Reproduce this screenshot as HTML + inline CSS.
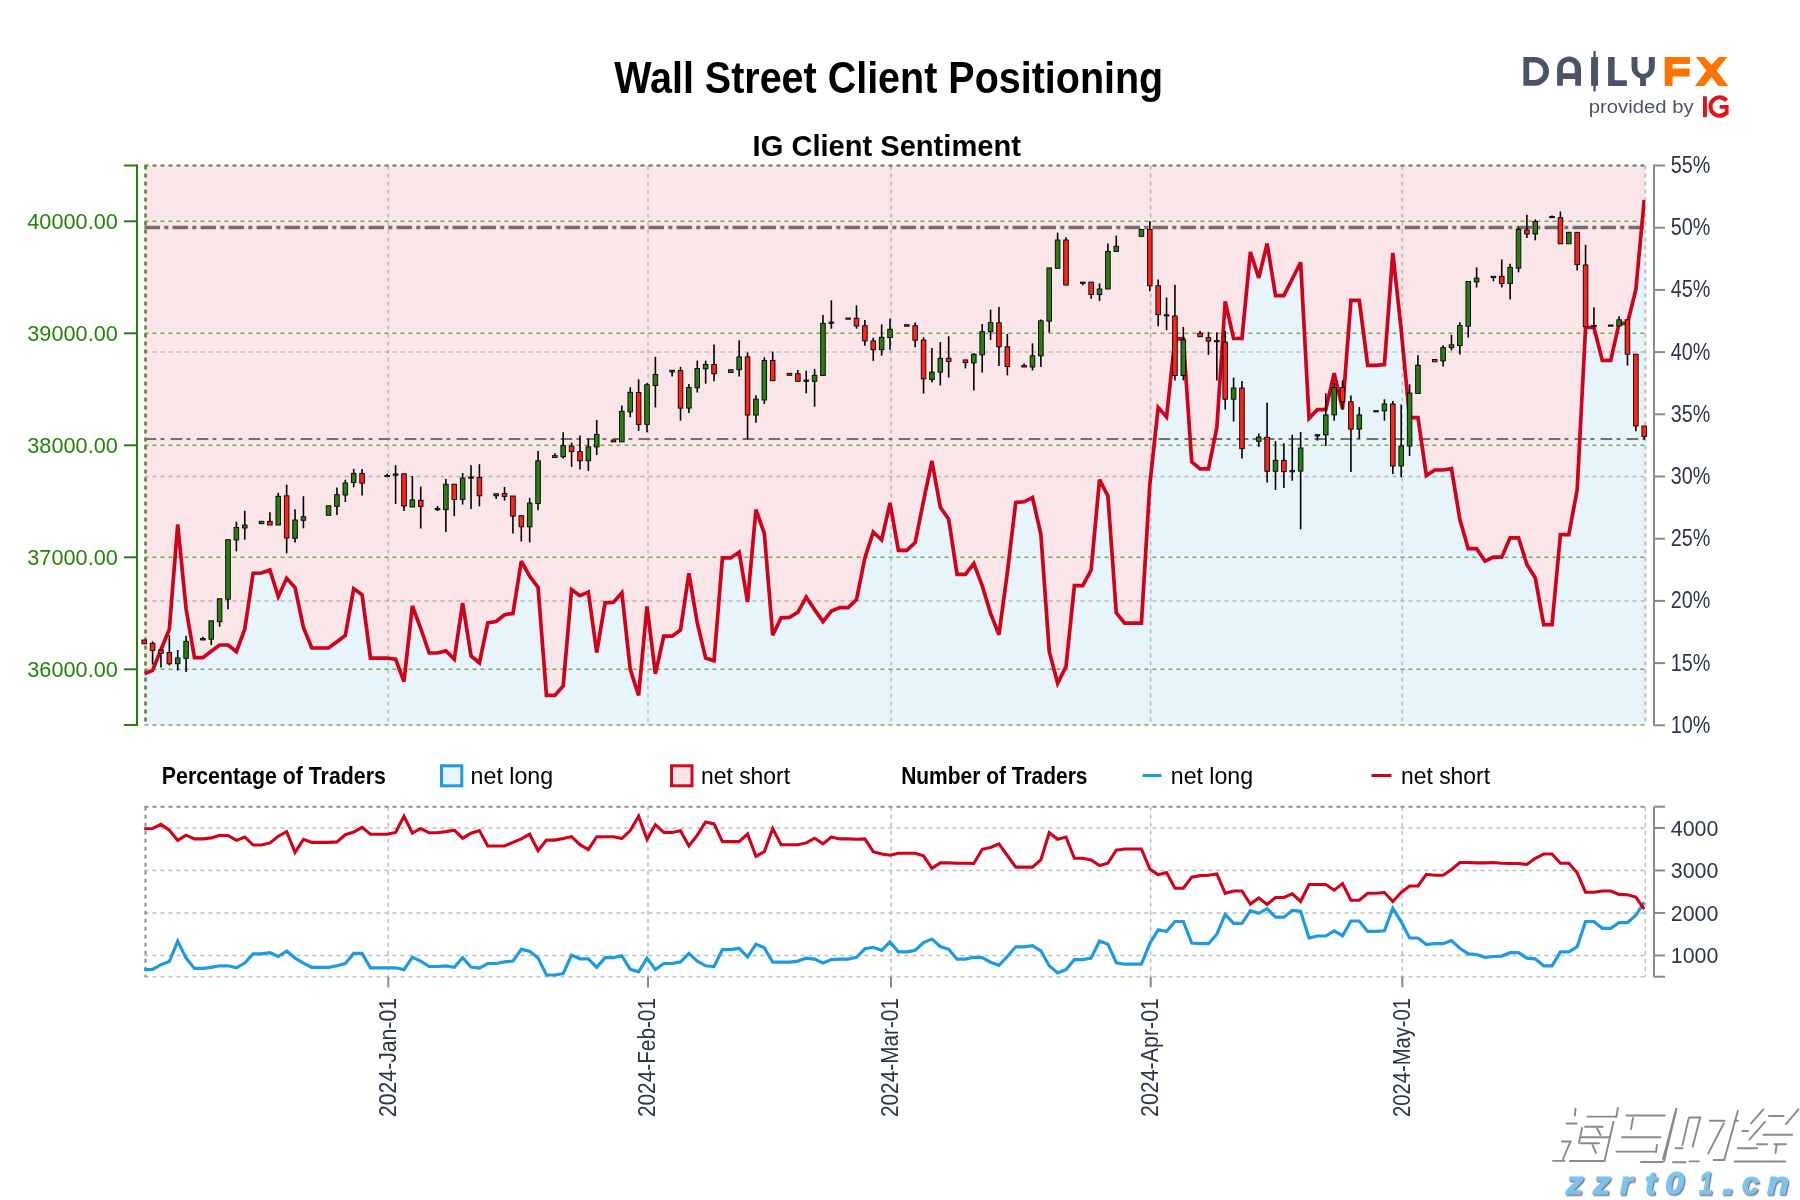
<!DOCTYPE html><html><head><meta charset="utf-8"><style>html,body{margin:0;padding:0;background:#fff;}svg{display:block;will-change:transform;}</style></head><body>
<svg width="1800" height="1200" viewBox="0 0 1800 1200" font-family="'Liberation Sans', sans-serif">
<rect width="1800" height="1200" fill="#fff"/>
<text x="614.2" y="93.1" font-size="45" font-weight="bold" fill="#000" textLength="549" lengthAdjust="spacingAndGlyphs">Wall Street Client Positioning</text>
<text x="752.6" y="155.5" font-size="29.5" font-weight="bold" fill="#000" textLength="268.3" lengthAdjust="spacingAndGlyphs">IG Client Sentiment</text>
<g fill="#4B5466">
<path fill-rule="evenodd" d="M1523.4,57.1H1534.65A14.35,14.35 0 0 1 1534.65,85.8H1523.4Z M1529.2,62.6H1534.65A8.65,8.65 0 0 1 1534.65,79.9H1529.2Z"/>
<path fill-rule="evenodd" d="M1557.1,85.8V68.35A11.95,11.95 0 0 1 1581,68.35V85.8H1575.2V79H1562.9V85.8Z M1562.9,73.3V67.6A5.9,5.9 0 0 1 1574.7,67.6V73.3Z"/>
<rect x="1591.1" y="57.1" width="6.9" height="28.7"/><rect x="1593.4" y="51" width="2.3" height="40.5"/>
<path d="M1608.1,57H1614.6V80.3H1626.9V85.9H1608.1Z"/>
<path d="M1631.5,57H1637.5V68.25A5.65,5.65 0 0 0 1648.8,68.25V57H1654.8V67A11.65,11.65 0 0 1 1645.9,78.3V85.9H1640.1V78.3A11.65,11.65 0 0 1 1631.5,67Z"/>
</g>
<g fill="#FF7300">
<path d="M1664.7,57H1689.9V64.1H1672.6V68.6H1689.6V76.5H1672.6V85.9H1664.7Z"/>
<path d="M1696,57H1704.3L1711.5,64.8L1718.9,57H1727.1L1716.6,70.5L1728.3,85.9H1718.5L1711.5,77L1704.3,85.9H1694.9L1706.4,70.5Z"/>
</g>
<text x="1588.8" y="112.6" font-size="17.5" fill="#4B5466" textLength="104.8" lengthAdjust="spacingAndGlyphs">provided by</text>
<rect x="1703" y="96.3" width="3.9" height="20.9" fill="#E0131B"/>
<path d="M1726.5,100.6A9.1,9.2 0 1 0 1726,113" fill="none" stroke="#E0131B" stroke-width="4.1"/>
<path d="M1719.7,105H1728.6V114.8H1724.8V108.8H1719.7Z" fill="#E0131B"/>
<defs><clipPath id="pc"><rect x="144.5" y="165.5" width="1500.8" height="559.5"/></clipPath></defs>
<rect x="144.5" y="165.5" width="1500.8" height="559.5" fill="#FAE6E8"/>
<polygon clip-path="url(#pc)" fill="#E8F4FC" points="142.5,673.8 144.2,673.8 152.58,670.4 160.96,649.8 169.34,629.2 177.72,524.4 186.1,609 194.48,657.7 202.86,657.7 211.24,651.3 219.62,645 228,645 236.38,651.7 244.76,629.2 253.14,573.3 261.52,573 269.9,570 278.28,596.7 286.66,578.3 295.04,587.5 303.42,627.5 311.8,648 320.18,648 328.56,648 336.94,641.7 345.32,635.5 353.7,588.7 362.08,594.8 370.46,658.1 378.84,658.1 387.22,658.1 395.6,659.1 403.98,681.5 412.36,606 420.74,628.5 429.12,653 437.5,653 445.88,650.9 454.26,659.1 462.64,603 471.02,656 479.4,662.8 487.78,622.8 496.16,621.5 504.54,614.7 512.92,613.5 521.3,561.2 529.68,576.2 538.06,587.4 546.44,695.4 554.82,695.4 563.2,685.9 571.58,589.7 579.96,595.7 588.34,592.1 596.72,652.6 605.1,602.8 613.48,602.3 621.86,592.8 630.24,669.3 638.62,695.4 647,606.4 655.38,673.8 663.76,636.2 672.14,636.2 680.52,630 688.9,573.2 697.28,623 705.66,658.1 714.04,660.7 722.42,557.9 730.8,557.9 739.18,552.1 747.56,602 755.94,509.6 764.32,533.4 772.7,635.3 781.08,617.8 789.46,617.4 797.84,612.3 806.22,597 814.6,609.6 822.98,621.6 831.36,611 839.74,607.6 848.12,607.6 856.5,599.6 864.88,558 873.26,532 881.64,540 890.02,503 898.4,550.4 906.78,550.4 915.16,542.6 923.54,501 931.92,461 940.3,507.2 948.68,519.1 957.06,574.4 965.44,574.4 973.82,563.6 982.2,585.7 990.58,613.4 998.96,634.7 1007.34,572.7 1015.72,502.4 1024.1,501.8 1032.48,497.5 1040.86,534.3 1049.24,651.4 1057.62,683.3 1066,666.6 1074.38,585.7 1082.76,585.7 1091.14,570 1099.52,479.6 1107.9,496 1116.28,612.9 1124.66,623.2 1133.04,623.2 1141.42,623.2 1149.8,484.7 1158.18,407.5 1166.56,417 1174.94,338.8 1183.32,338.8 1191.7,461.8 1200.08,468.8 1208.46,468.8 1216.84,427.5 1225.22,301.3 1233.6,338.5 1241.98,338.5 1250.36,252 1258.74,277.9 1267.12,243.5 1275.5,295.6 1283.88,295.6 1292.26,279 1300.64,262.4 1309.02,418.3 1317.4,409.6 1325.78,409.6 1334.16,373.2 1342.54,408.8 1350.92,300.4 1359.3,300.4 1367.68,365.3 1376.06,365.3 1384.44,364.5 1392.82,252.9 1401.2,330 1409.58,417.6 1417.96,417.6 1426.34,475.6 1434.72,470 1443.1,470 1451.48,468.6 1459.86,519.5 1468.24,548.7 1476.62,548.7 1485,561.2 1493.38,557.2 1501.76,557.2 1510.14,537.8 1518.52,537.8 1526.9,564.5 1535.28,578 1543.66,624.6 1552.04,624.6 1560.42,534.7 1568.8,534.7 1577.18,489.7 1585.56,327.5 1593.94,327.5 1602.32,360.4 1610.7,360.4 1619.08,323.3 1627.46,323.3 1635.84,289.6 1644.22,200 1647.3,200 1647.3,727 142.5,727"/>
<line x1="144.5" x2="1645.3" y1="352.1" y2="352.1" stroke="rgba(120,120,120,0.45)" stroke-width="1.5" stroke-dasharray="4,4"/>
<line x1="144.5" x2="1645.3" y1="476.5" y2="476.5" stroke="rgba(120,120,120,0.45)" stroke-width="1.5" stroke-dasharray="4,4"/>
<line x1="144.5" x2="1645.3" y1="600.9" y2="600.9" stroke="rgba(120,120,120,0.45)" stroke-width="1.5" stroke-dasharray="4,4"/>
<line x1="388.3" x2="388.3" y1="165.5" y2="725" stroke="rgba(120,120,120,0.45)" stroke-width="1.5" stroke-dasharray="4,4"/>
<line x1="648" x2="648" y1="165.5" y2="725" stroke="rgba(120,120,120,0.45)" stroke-width="1.5" stroke-dasharray="4,4"/>
<line x1="891" x2="891" y1="165.5" y2="725" stroke="rgba(120,120,120,0.45)" stroke-width="1.5" stroke-dasharray="4,4"/>
<line x1="1150.7" x2="1150.7" y1="165.5" y2="725" stroke="rgba(120,120,120,0.45)" stroke-width="1.5" stroke-dasharray="4,4"/>
<line x1="1402.3" x2="1402.3" y1="165.5" y2="725" stroke="rgba(120,120,120,0.45)" stroke-width="1.5" stroke-dasharray="4,4"/>
<line x1="144.5" x2="1645.3" y1="669.3" y2="669.3" stroke="#74AC55" stroke-width="1.6" stroke-dasharray="4,4"/>
<line x1="144.5" x2="1645.3" y1="557.3" y2="557.3" stroke="#74AC55" stroke-width="1.6" stroke-dasharray="4,4"/>
<line x1="144.5" x2="1645.3" y1="445.3" y2="445.3" stroke="#74AC55" stroke-width="1.6" stroke-dasharray="4,4"/>
<line x1="144.5" x2="1645.3" y1="333.3" y2="333.3" stroke="#74AC55" stroke-width="1.6" stroke-dasharray="4,4"/>
<line x1="144.5" x2="1645.3" y1="221.3" y2="221.3" stroke="#74AC55" stroke-width="1.6" stroke-dasharray="4,4"/>
<line x1="144.5" x2="1645.3" y1="165.5" y2="165.5" stroke="#4E8536" stroke-width="2" stroke-dasharray="4,4"/>
<line x1="144.5" x2="1645.3" y1="725" y2="725" stroke="#74AC55" stroke-width="1.6" stroke-dasharray="4,4"/>
<line x1="145.5" x2="145.5" y1="165.5" y2="725" stroke="#4E8536" stroke-width="2.5" stroke-dasharray="4,4"/>
<line x1="1645.3" x2="1645.3" y1="165.5" y2="725" stroke="#BDBDBD" stroke-width="2" stroke-dasharray="4,4"/>
<line x1="144.5" x2="1645.3" y1="227.4" y2="227.4" stroke="#776D70" stroke-width="3.5" stroke-dasharray="15.6,4.2,4,4.2"/>
<line x1="144.5" x2="1645.3" y1="439" y2="439" stroke="#786E70" stroke-width="1.8" stroke-dasharray="11.8,4.2,3.9,6.1"/>
<polyline clip-path="url(#pc)" fill="none" stroke="#D0021B" stroke-width="3.7" stroke-linejoin="miter" stroke-miterlimit="3" points="144.2,673.8 152.58,670.4 160.96,649.8 169.34,629.2 177.72,524.4 186.1,609 194.48,657.7 202.86,657.7 211.24,651.3 219.62,645 228,645 236.38,651.7 244.76,629.2 253.14,573.3 261.52,573 269.9,570 278.28,596.7 286.66,578.3 295.04,587.5 303.42,627.5 311.8,648 320.18,648 328.56,648 336.94,641.7 345.32,635.5 353.7,588.7 362.08,594.8 370.46,658.1 378.84,658.1 387.22,658.1 395.6,659.1 403.98,681.5 412.36,606 420.74,628.5 429.12,653 437.5,653 445.88,650.9 454.26,659.1 462.64,603 471.02,656 479.4,662.8 487.78,622.8 496.16,621.5 504.54,614.7 512.92,613.5 521.3,561.2 529.68,576.2 538.06,587.4 546.44,695.4 554.82,695.4 563.2,685.9 571.58,589.7 579.96,595.7 588.34,592.1 596.72,652.6 605.1,602.8 613.48,602.3 621.86,592.8 630.24,669.3 638.62,695.4 647,606.4 655.38,673.8 663.76,636.2 672.14,636.2 680.52,630 688.9,573.2 697.28,623 705.66,658.1 714.04,660.7 722.42,557.9 730.8,557.9 739.18,552.1 747.56,602 755.94,509.6 764.32,533.4 772.7,635.3 781.08,617.8 789.46,617.4 797.84,612.3 806.22,597 814.6,609.6 822.98,621.6 831.36,611 839.74,607.6 848.12,607.6 856.5,599.6 864.88,558 873.26,532 881.64,540 890.02,503 898.4,550.4 906.78,550.4 915.16,542.6 923.54,501 931.92,461 940.3,507.2 948.68,519.1 957.06,574.4 965.44,574.4 973.82,563.6 982.2,585.7 990.58,613.4 998.96,634.7 1007.34,572.7 1015.72,502.4 1024.1,501.8 1032.48,497.5 1040.86,534.3 1049.24,651.4 1057.62,683.3 1066,666.6 1074.38,585.7 1082.76,585.7 1091.14,570 1099.52,479.6 1107.9,496 1116.28,612.9 1124.66,623.2 1133.04,623.2 1141.42,623.2 1149.8,484.7 1158.18,407.5 1166.56,417 1174.94,338.8 1183.32,338.8 1191.7,461.8 1200.08,468.8 1208.46,468.8 1216.84,427.5 1225.22,301.3 1233.6,338.5 1241.98,338.5 1250.36,252 1258.74,277.9 1267.12,243.5 1275.5,295.6 1283.88,295.6 1292.26,279 1300.64,262.4 1309.02,418.3 1317.4,409.6 1325.78,409.6 1334.16,373.2 1342.54,408.8 1350.92,300.4 1359.3,300.4 1367.68,365.3 1376.06,365.3 1384.44,364.5 1392.82,252.9 1401.2,330 1409.58,417.6 1417.96,417.6 1426.34,475.6 1434.72,470 1443.1,470 1451.48,468.6 1459.86,519.5 1468.24,548.7 1476.62,548.7 1485,561.2 1493.38,557.2 1501.76,557.2 1510.14,537.8 1518.52,537.8 1526.9,564.5 1535.28,578 1543.66,624.6 1552.04,624.6 1560.42,534.7 1568.8,534.7 1577.18,489.7 1585.56,327.5 1593.94,327.5 1602.32,360.4 1610.7,360.4 1619.08,323.3 1627.46,323.3 1635.84,289.6 1644.22,200"/>
<line x1="144.2" x2="144.2" y1="640" y2="643.8" stroke="#000" stroke-width="1.6"/>
<rect x="141.9" y="640" width="4.6" height="3.8" fill="#FF2318" stroke="#000" stroke-width="0.9"/>
<line x1="152.58" x2="152.58" y1="641.3" y2="664.6" stroke="#000" stroke-width="1.6"/>
<rect x="150.28" y="643.3" width="4.6" height="7.1" fill="#FF2318" stroke="#000" stroke-width="0.9"/>
<line x1="160.96" x2="160.96" y1="650" y2="667.5" stroke="#000" stroke-width="1.6"/>
<rect x="158.66" y="650" width="4.6" height="3.3" fill="#FF2318" stroke="#000" stroke-width="0.9"/>
<line x1="169.34" x2="169.34" y1="635.4" y2="665.4" stroke="#000" stroke-width="1.6"/>
<rect x="167.04" y="652.5" width="4.6" height="11.3" fill="#FF2318" stroke="#000" stroke-width="0.9"/>
<line x1="177.72" x2="177.72" y1="650" y2="670.4" stroke="#000" stroke-width="1.6"/>
<rect x="175.42" y="658" width="4.6" height="5.8" fill="#2B7D12" stroke="#000" stroke-width="0.9"/>
<line x1="186.1" x2="186.1" y1="635.8" y2="672" stroke="#000" stroke-width="1.6"/>
<rect x="183.8" y="641.3" width="4.6" height="17" fill="#2B7D12" stroke="#000" stroke-width="0.9"/>
<line x1="202.86" x2="202.86" y1="636.7" y2="640" stroke="#000" stroke-width="1.6"/>
<rect x="200.56" y="638.5" width="4.6" height="1.5" fill="#2B7D12" stroke="#000" stroke-width="0.9"/>
<line x1="211.24" x2="211.24" y1="620.8" y2="645" stroke="#000" stroke-width="1.6"/>
<rect x="208.94" y="620.8" width="4.6" height="18.4" fill="#2B7D12" stroke="#000" stroke-width="0.9"/>
<line x1="219.62" x2="219.62" y1="598.8" y2="626.7" stroke="#000" stroke-width="1.6"/>
<rect x="217.32" y="598.8" width="4.6" height="22.9" fill="#2B7D12" stroke="#000" stroke-width="0.9"/>
<line x1="228" x2="228" y1="539.7" y2="609.2" stroke="#000" stroke-width="1.6"/>
<rect x="225.7" y="539.7" width="4.6" height="59.5" fill="#2B7D12" stroke="#000" stroke-width="0.9"/>
<line x1="236.38" x2="236.38" y1="521.7" y2="551.3" stroke="#000" stroke-width="1.6"/>
<rect x="234.08" y="527.5" width="4.6" height="12.5" fill="#2B7D12" stroke="#000" stroke-width="0.9"/>
<line x1="244.76" x2="244.76" y1="510.8" y2="539.7" stroke="#000" stroke-width="1.6"/>
<rect x="242.46" y="525" width="4.6" height="3" fill="#2B7D12" stroke="#000" stroke-width="0.9"/>
<line x1="261.52" x2="261.52" y1="521.3" y2="523.7" stroke="#000" stroke-width="1.6"/>
<rect x="259.22" y="521.3" width="4.6" height="2.4" fill="#2B7D12" stroke="#000" stroke-width="0.9"/>
<line x1="269.9" x2="269.9" y1="512.2" y2="525" stroke="#000" stroke-width="1.6"/>
<rect x="267.6" y="521.3" width="4.6" height="3.7" fill="#FF2318" stroke="#000" stroke-width="0.9"/>
<line x1="278.28" x2="278.28" y1="492.8" y2="525" stroke="#000" stroke-width="1.6"/>
<rect x="275.98" y="496.3" width="4.6" height="28.7" fill="#2B7D12" stroke="#000" stroke-width="0.9"/>
<line x1="286.66" x2="286.66" y1="484.7" y2="553.3" stroke="#000" stroke-width="1.6"/>
<rect x="284.36" y="495.8" width="4.6" height="42.2" fill="#FF2318" stroke="#000" stroke-width="0.9"/>
<line x1="295.04" x2="295.04" y1="509.2" y2="542.5" stroke="#000" stroke-width="1.6"/>
<rect x="292.74" y="520" width="4.6" height="18.3" fill="#2B7D12" stroke="#000" stroke-width="0.9"/>
<line x1="303.42" x2="303.42" y1="496.2" y2="528.3" stroke="#000" stroke-width="1.6"/>
<rect x="301.12" y="516.7" width="4.6" height="3.6" fill="#2B7D12" stroke="#000" stroke-width="0.9"/>
<line x1="328.56" x2="328.56" y1="505.8" y2="515.3" stroke="#000" stroke-width="1.6"/>
<rect x="326.26" y="505.8" width="4.6" height="9.5" fill="#2B7D12" stroke="#000" stroke-width="0.9"/>
<line x1="336.94" x2="336.94" y1="487.5" y2="515" stroke="#000" stroke-width="1.6"/>
<rect x="334.64" y="494.7" width="4.6" height="11.6" fill="#2B7D12" stroke="#000" stroke-width="0.9"/>
<line x1="345.32" x2="345.32" y1="479.7" y2="502" stroke="#000" stroke-width="1.6"/>
<rect x="343.02" y="483" width="4.6" height="12" fill="#2B7D12" stroke="#000" stroke-width="0.9"/>
<line x1="353.7" x2="353.7" y1="468.9" y2="487.2" stroke="#000" stroke-width="1.6"/>
<rect x="351.4" y="473.4" width="4.6" height="9.2" fill="#2B7D12" stroke="#000" stroke-width="0.9"/>
<line x1="362.08" x2="362.08" y1="468.9" y2="495.4" stroke="#000" stroke-width="1.6"/>
<rect x="359.78" y="473.4" width="4.6" height="9.8" fill="#FF2318" stroke="#000" stroke-width="0.9"/>
<line x1="387.22" x2="387.22" y1="473.8" y2="476.4" stroke="#000" stroke-width="1.6"/>
<rect x="384.92" y="475.4" width="4.6" height="1.2" fill="#2B7D12" stroke="#000" stroke-width="0.9"/>
<line x1="395.6" x2="395.6" y1="465.2" y2="504" stroke="#000" stroke-width="1.6"/>
<rect x="393.3" y="474" width="4.6" height="1.2" fill="#2B7D12" stroke="#000" stroke-width="0.9"/>
<line x1="403.98" x2="403.98" y1="473.8" y2="511.1" stroke="#000" stroke-width="1.6"/>
<rect x="401.68" y="473.8" width="4.6" height="32.2" fill="#FF2318" stroke="#000" stroke-width="0.9"/>
<line x1="412.36" x2="412.36" y1="476" y2="507" stroke="#000" stroke-width="1.6"/>
<rect x="410.06" y="499.9" width="4.6" height="7.1" fill="#2B7D12" stroke="#000" stroke-width="0.9"/>
<line x1="420.74" x2="420.74" y1="486.6" y2="528.5" stroke="#000" stroke-width="1.6"/>
<rect x="418.44" y="500.3" width="4.6" height="6.1" fill="#FF2318" stroke="#000" stroke-width="0.9"/>
<line x1="437.5" x2="437.5" y1="506" y2="511.1" stroke="#000" stroke-width="1.6"/>
<rect x="435.2" y="508.5" width="4.6" height="1.2" fill="#2B7D12" stroke="#000" stroke-width="0.9"/>
<line x1="445.88" x2="445.88" y1="479.1" y2="532.1" stroke="#000" stroke-width="1.6"/>
<rect x="443.58" y="484.2" width="4.6" height="25.5" fill="#2B7D12" stroke="#000" stroke-width="0.9"/>
<line x1="454.26" x2="454.26" y1="484.2" y2="516.2" stroke="#000" stroke-width="1.6"/>
<rect x="451.96" y="484.2" width="4.6" height="15.3" fill="#FF2318" stroke="#000" stroke-width="0.9"/>
<line x1="462.64" x2="462.64" y1="473" y2="504.6" stroke="#000" stroke-width="1.6"/>
<rect x="460.34" y="478.1" width="4.6" height="21.4" fill="#2B7D12" stroke="#000" stroke-width="0.9"/>
<line x1="471.02" x2="471.02" y1="465.2" y2="509.1" stroke="#000" stroke-width="1.6"/>
<rect x="468.72" y="477" width="4.6" height="1.2" fill="#2B7D12" stroke="#000" stroke-width="0.9"/>
<line x1="479.4" x2="479.4" y1="464.2" y2="506.4" stroke="#000" stroke-width="1.6"/>
<rect x="477.1" y="477.4" width="4.6" height="18.4" fill="#FF2318" stroke="#000" stroke-width="0.9"/>
<line x1="496.16" x2="496.16" y1="493.8" y2="498.9" stroke="#000" stroke-width="1.6"/>
<rect x="493.86" y="493.8" width="4.6" height="2" fill="#2B7D12" stroke="#000" stroke-width="0.9"/>
<line x1="504.54" x2="504.54" y1="487" y2="500.7" stroke="#000" stroke-width="1.6"/>
<rect x="502.24" y="493.6" width="4.6" height="2.8" fill="#FF2318" stroke="#000" stroke-width="0.9"/>
<line x1="512.92" x2="512.92" y1="496" y2="533.5" stroke="#000" stroke-width="1.6"/>
<rect x="510.62" y="496" width="4.6" height="20.1" fill="#FF2318" stroke="#000" stroke-width="0.9"/>
<line x1="521.3" x2="521.3" y1="515.7" y2="541.5" stroke="#000" stroke-width="1.6"/>
<rect x="519" y="515.7" width="4.6" height="11.1" fill="#FF2318" stroke="#000" stroke-width="0.9"/>
<line x1="529.68" x2="529.68" y1="497.9" y2="542.3" stroke="#000" stroke-width="1.6"/>
<rect x="527.38" y="503.1" width="4.6" height="23.7" fill="#2B7D12" stroke="#000" stroke-width="0.9"/>
<line x1="538.06" x2="538.06" y1="450.9" y2="510.2" stroke="#000" stroke-width="1.6"/>
<rect x="535.76" y="460.8" width="4.6" height="42.8" fill="#2B7D12" stroke="#000" stroke-width="0.9"/>
<line x1="554.82" x2="554.82" y1="453.2" y2="457.5" stroke="#000" stroke-width="1.6"/>
<rect x="552.52" y="455.6" width="4.6" height="1.9" fill="#2B7D12" stroke="#000" stroke-width="0.9"/>
<line x1="563.2" x2="563.2" y1="432.3" y2="458.5" stroke="#000" stroke-width="1.6"/>
<rect x="560.9" y="445.6" width="4.6" height="11.2" fill="#2B7D12" stroke="#000" stroke-width="0.9"/>
<line x1="571.58" x2="571.58" y1="442.6" y2="467" stroke="#000" stroke-width="1.6"/>
<rect x="569.28" y="446.1" width="4.6" height="5.5" fill="#FF2318" stroke="#000" stroke-width="0.9"/>
<line x1="579.96" x2="579.96" y1="435.4" y2="469.4" stroke="#000" stroke-width="1.6"/>
<rect x="577.66" y="451.6" width="4.6" height="9.2" fill="#FF2318" stroke="#000" stroke-width="0.9"/>
<line x1="588.34" x2="588.34" y1="438.5" y2="471" stroke="#000" stroke-width="1.6"/>
<rect x="586.04" y="446.8" width="4.6" height="14" fill="#2B7D12" stroke="#000" stroke-width="0.9"/>
<line x1="596.72" x2="596.72" y1="420" y2="455" stroke="#000" stroke-width="1.6"/>
<rect x="594.42" y="434.4" width="4.6" height="12.5" fill="#2B7D12" stroke="#000" stroke-width="0.9"/>
<line x1="613.48" x2="613.48" y1="440" y2="441.9" stroke="#000" stroke-width="1.6"/>
<rect x="611.18" y="440" width="4.6" height="1.9" fill="#FF2318" stroke="#000" stroke-width="0.9"/>
<line x1="621.86" x2="621.86" y1="405.6" y2="441.9" stroke="#000" stroke-width="1.6"/>
<rect x="619.56" y="411.25" width="4.6" height="30.65" fill="#2B7D12" stroke="#000" stroke-width="0.9"/>
<line x1="630.24" x2="630.24" y1="387.25" y2="417.25" stroke="#000" stroke-width="1.6"/>
<rect x="627.94" y="392.25" width="4.6" height="19.65" fill="#2B7D12" stroke="#000" stroke-width="0.9"/>
<line x1="638.62" x2="638.62" y1="379.4" y2="431" stroke="#000" stroke-width="1.6"/>
<rect x="636.32" y="392.5" width="4.6" height="31.9" fill="#FF2318" stroke="#000" stroke-width="0.9"/>
<line x1="647" x2="647" y1="383.1" y2="432.25" stroke="#000" stroke-width="1.6"/>
<rect x="644.7" y="384.75" width="4.6" height="39.65" fill="#2B7D12" stroke="#000" stroke-width="0.9"/>
<line x1="655.38" x2="655.38" y1="356.9" y2="407.5" stroke="#000" stroke-width="1.6"/>
<rect x="653.08" y="374.4" width="4.6" height="11.2" fill="#2B7D12" stroke="#000" stroke-width="0.9"/>
<line x1="672.14" x2="672.14" y1="370.25" y2="376.5" stroke="#000" stroke-width="1.6"/>
<rect x="669.84" y="370.25" width="4.6" height="1.65" fill="#2B7D12" stroke="#000" stroke-width="0.9"/>
<line x1="680.52" x2="680.52" y1="366.9" y2="420.6" stroke="#000" stroke-width="1.6"/>
<rect x="678.22" y="370.6" width="4.6" height="37.5" fill="#FF2318" stroke="#000" stroke-width="0.9"/>
<line x1="688.9" x2="688.9" y1="384" y2="413.1" stroke="#000" stroke-width="1.6"/>
<rect x="686.6" y="387.5" width="4.6" height="20.6" fill="#2B7D12" stroke="#000" stroke-width="0.9"/>
<line x1="697.28" x2="697.28" y1="360.6" y2="392.5" stroke="#000" stroke-width="1.6"/>
<rect x="694.98" y="368.5" width="4.6" height="19.25" fill="#2B7D12" stroke="#000" stroke-width="0.9"/>
<line x1="705.66" x2="705.66" y1="360.6" y2="383.75" stroke="#000" stroke-width="1.6"/>
<rect x="703.36" y="364.4" width="4.6" height="4.35" fill="#2B7D12" stroke="#000" stroke-width="0.9"/>
<line x1="714.04" x2="714.04" y1="344.4" y2="381.25" stroke="#000" stroke-width="1.6"/>
<rect x="711.74" y="364.4" width="4.6" height="9.35" fill="#FF2318" stroke="#000" stroke-width="0.9"/>
<line x1="730.8" x2="730.8" y1="369.75" y2="372.5" stroke="#000" stroke-width="1.6"/>
<rect x="728.5" y="369.75" width="4.6" height="2.75" fill="#2B7D12" stroke="#000" stroke-width="0.9"/>
<line x1="739.18" x2="739.18" y1="340.25" y2="376.5" stroke="#000" stroke-width="1.6"/>
<rect x="736.88" y="356.9" width="4.6" height="12.85" fill="#2B7D12" stroke="#000" stroke-width="0.9"/>
<line x1="747.56" x2="747.56" y1="352.5" y2="439.4" stroke="#000" stroke-width="1.6"/>
<rect x="745.26" y="356.9" width="4.6" height="58.1" fill="#FF2318" stroke="#000" stroke-width="0.9"/>
<line x1="755.94" x2="755.94" y1="395.3" y2="422.7" stroke="#000" stroke-width="1.6"/>
<rect x="753.64" y="399.1" width="4.6" height="16" fill="#2B7D12" stroke="#000" stroke-width="0.9"/>
<line x1="764.32" x2="764.32" y1="357.3" y2="404" stroke="#000" stroke-width="1.6"/>
<rect x="762.02" y="360.4" width="4.6" height="39.6" fill="#2B7D12" stroke="#000" stroke-width="0.9"/>
<line x1="772.7" x2="772.7" y1="351.6" y2="380.7" stroke="#000" stroke-width="1.6"/>
<rect x="770.4" y="360.4" width="4.6" height="20.3" fill="#FF2318" stroke="#000" stroke-width="0.9"/>
<line x1="789.46" x2="789.46" y1="373.3" y2="375.3" stroke="#000" stroke-width="1.6"/>
<rect x="787.16" y="373.3" width="4.6" height="2" fill="#FF2318" stroke="#000" stroke-width="0.9"/>
<line x1="797.84" x2="797.84" y1="370" y2="381.3" stroke="#000" stroke-width="1.6"/>
<rect x="795.54" y="373.7" width="4.6" height="7.6" fill="#FF2318" stroke="#000" stroke-width="0.9"/>
<line x1="806.22" x2="806.22" y1="370.7" y2="393.3" stroke="#000" stroke-width="1.6"/>
<rect x="803.92" y="380" width="4.6" height="1.3" fill="#2B7D12" stroke="#000" stroke-width="0.9"/>
<line x1="814.6" x2="814.6" y1="368.9" y2="406.7" stroke="#000" stroke-width="1.6"/>
<rect x="812.3" y="375.3" width="4.6" height="6" fill="#2B7D12" stroke="#000" stroke-width="0.9"/>
<line x1="822.98" x2="822.98" y1="315.1" y2="375.6" stroke="#000" stroke-width="1.6"/>
<rect x="820.68" y="323.3" width="4.6" height="52.3" fill="#2B7D12" stroke="#000" stroke-width="0.9"/>
<line x1="831.36" x2="831.36" y1="300.4" y2="328.7" stroke="#000" stroke-width="1.6"/>
<rect x="829.06" y="322" width="4.6" height="1.3" fill="#2B7D12" stroke="#000" stroke-width="0.9"/>
<line x1="848.12" x2="848.12" y1="318" y2="319.1" stroke="#000" stroke-width="1.6"/>
<rect x="845.82" y="318" width="4.6" height="1.2" fill="#FF2318" stroke="#000" stroke-width="0.9"/>
<line x1="856.5" x2="856.5" y1="305.3" y2="328.7" stroke="#000" stroke-width="1.6"/>
<rect x="854.2" y="318.3" width="4.6" height="7.7" fill="#FF2318" stroke="#000" stroke-width="0.9"/>
<line x1="864.88" x2="864.88" y1="320" y2="345.7" stroke="#000" stroke-width="1.6"/>
<rect x="862.58" y="325.7" width="4.6" height="15.2" fill="#FF2318" stroke="#000" stroke-width="0.9"/>
<line x1="873.26" x2="873.26" y1="337.7" y2="360.9" stroke="#000" stroke-width="1.6"/>
<rect x="870.96" y="340.9" width="4.6" height="8.8" fill="#FF2318" stroke="#000" stroke-width="0.9"/>
<line x1="881.64" x2="881.64" y1="324.4" y2="355.6" stroke="#000" stroke-width="1.6"/>
<rect x="879.34" y="337.3" width="4.6" height="12.4" fill="#2B7D12" stroke="#000" stroke-width="0.9"/>
<line x1="890.02" x2="890.02" y1="318.7" y2="349.7" stroke="#000" stroke-width="1.6"/>
<rect x="887.72" y="329.3" width="4.6" height="8.3" fill="#2B7D12" stroke="#000" stroke-width="0.9"/>
<line x1="906.78" x2="906.78" y1="324.7" y2="326.2" stroke="#000" stroke-width="1.6"/>
<rect x="904.48" y="324.7" width="4.6" height="1.5" fill="#FF2318" stroke="#000" stroke-width="0.9"/>
<line x1="915.16" x2="915.16" y1="322.6" y2="347.3" stroke="#000" stroke-width="1.6"/>
<rect x="912.86" y="325.8" width="4.6" height="14.4" fill="#FF2318" stroke="#000" stroke-width="0.9"/>
<line x1="923.54" x2="923.54" y1="337.2" y2="393.6" stroke="#000" stroke-width="1.6"/>
<rect x="921.24" y="340" width="4.6" height="38.9" fill="#FF2318" stroke="#000" stroke-width="0.9"/>
<line x1="931.92" x2="931.92" y1="348" y2="382.2" stroke="#000" stroke-width="1.6"/>
<rect x="929.62" y="372.1" width="4.6" height="7.3" fill="#2B7D12" stroke="#000" stroke-width="0.9"/>
<line x1="940.3" x2="940.3" y1="342.1" y2="385.4" stroke="#000" stroke-width="1.6"/>
<rect x="938" y="358.3" width="4.6" height="13.8" fill="#2B7D12" stroke="#000" stroke-width="0.9"/>
<line x1="948.68" x2="948.68" y1="336.3" y2="377.6" stroke="#000" stroke-width="1.6"/>
<rect x="946.38" y="358.3" width="4.6" height="3.2" fill="#FF2318" stroke="#000" stroke-width="0.9"/>
<line x1="965.44" x2="965.44" y1="359.9" y2="368.4" stroke="#000" stroke-width="1.6"/>
<rect x="963.14" y="359.9" width="4.6" height="2.7" fill="#FF2318" stroke="#000" stroke-width="0.9"/>
<line x1="973.82" x2="973.82" y1="353.3" y2="390.4" stroke="#000" stroke-width="1.6"/>
<rect x="971.52" y="354.2" width="4.6" height="8.7" fill="#2B7D12" stroke="#000" stroke-width="0.9"/>
<line x1="982.2" x2="982.2" y1="323.9" y2="372.5" stroke="#000" stroke-width="1.6"/>
<rect x="979.9" y="331.7" width="4.6" height="23.2" fill="#2B7D12" stroke="#000" stroke-width="0.9"/>
<line x1="990.58" x2="990.58" y1="309.7" y2="340" stroke="#000" stroke-width="1.6"/>
<rect x="988.28" y="322.6" width="4.6" height="9.1" fill="#2B7D12" stroke="#000" stroke-width="0.9"/>
<line x1="998.96" x2="998.96" y1="307" y2="366.1" stroke="#000" stroke-width="1.6"/>
<rect x="996.66" y="322.8" width="4.6" height="24" fill="#FF2318" stroke="#000" stroke-width="0.9"/>
<line x1="1007.34" x2="1007.34" y1="333.8" y2="375.3" stroke="#000" stroke-width="1.6"/>
<rect x="1005.04" y="346.8" width="4.6" height="19.8" fill="#FF2318" stroke="#000" stroke-width="0.9"/>
<line x1="1024.1" x2="1024.1" y1="363.4" y2="367" stroke="#000" stroke-width="1.6"/>
<rect x="1021.8" y="365.6" width="4.6" height="1.4" fill="#FF2318" stroke="#000" stroke-width="0.9"/>
<line x1="1032.48" x2="1032.48" y1="343.4" y2="370.5" stroke="#000" stroke-width="1.6"/>
<rect x="1030.18" y="355.8" width="4.6" height="11.2" fill="#2B7D12" stroke="#000" stroke-width="0.9"/>
<line x1="1040.86" x2="1040.86" y1="319.5" y2="366.9" stroke="#000" stroke-width="1.6"/>
<rect x="1038.56" y="320.8" width="4.6" height="35.1" fill="#2B7D12" stroke="#000" stroke-width="0.9"/>
<line x1="1049.24" x2="1049.24" y1="267.9" y2="332.5" stroke="#000" stroke-width="1.6"/>
<rect x="1046.94" y="267.9" width="4.6" height="53.2" fill="#2B7D12" stroke="#000" stroke-width="0.9"/>
<line x1="1057.62" x2="1057.62" y1="232.6" y2="268.3" stroke="#000" stroke-width="1.6"/>
<rect x="1055.32" y="240" width="4.6" height="28.3" fill="#2B7D12" stroke="#000" stroke-width="0.9"/>
<line x1="1066" x2="1066" y1="237.3" y2="285.1" stroke="#000" stroke-width="1.6"/>
<rect x="1063.7" y="240" width="4.6" height="45.1" fill="#FF2318" stroke="#000" stroke-width="0.9"/>
<line x1="1082.76" x2="1082.76" y1="282.1" y2="285.4" stroke="#000" stroke-width="1.6"/>
<rect x="1080.46" y="282.1" width="4.6" height="1.2" fill="#FF2318" stroke="#000" stroke-width="0.9"/>
<line x1="1091.14" x2="1091.14" y1="282.1" y2="298.8" stroke="#000" stroke-width="1.6"/>
<rect x="1088.84" y="282.1" width="4.6" height="12.4" fill="#FF2318" stroke="#000" stroke-width="0.9"/>
<line x1="1099.52" x2="1099.52" y1="283.5" y2="300.9" stroke="#000" stroke-width="1.6"/>
<rect x="1097.22" y="289" width="4.6" height="5.5" fill="#2B7D12" stroke="#000" stroke-width="0.9"/>
<line x1="1107.9" x2="1107.9" y1="243.6" y2="289" stroke="#000" stroke-width="1.6"/>
<rect x="1105.6" y="251.4" width="4.6" height="37.6" fill="#2B7D12" stroke="#000" stroke-width="0.9"/>
<line x1="1116.28" x2="1116.28" y1="235.6" y2="251.4" stroke="#000" stroke-width="1.6"/>
<rect x="1113.98" y="246.3" width="4.6" height="5.1" fill="#2B7D12" stroke="#000" stroke-width="0.9"/>
<line x1="1141.42" x2="1141.42" y1="229.4" y2="236.3" stroke="#000" stroke-width="1.6"/>
<rect x="1139.12" y="229.4" width="4.6" height="6.9" fill="#2B7D12" stroke="#000" stroke-width="0.9"/>
<line x1="1149.8" x2="1149.8" y1="221.2" y2="291.3" stroke="#000" stroke-width="1.6"/>
<rect x="1147.5" y="229.4" width="4.6" height="56.4" fill="#FF2318" stroke="#000" stroke-width="0.9"/>
<line x1="1158.18" x2="1158.18" y1="279.6" y2="326.3" stroke="#000" stroke-width="1.6"/>
<rect x="1155.88" y="285.8" width="4.6" height="28.9" fill="#FF2318" stroke="#000" stroke-width="0.9"/>
<line x1="1166.56" x2="1166.56" y1="297.5" y2="330.2" stroke="#000" stroke-width="1.6"/>
<rect x="1164.26" y="314.8" width="4.6" height="1.2" fill="#FF2318" stroke="#000" stroke-width="0.9"/>
<line x1="1174.94" x2="1174.94" y1="284.8" y2="380.4" stroke="#000" stroke-width="1.6"/>
<rect x="1172.64" y="316" width="4.6" height="59.5" fill="#FF2318" stroke="#000" stroke-width="0.9"/>
<line x1="1183.32" x2="1183.32" y1="327" y2="380.4" stroke="#000" stroke-width="1.6"/>
<rect x="1181.02" y="339.8" width="4.6" height="35.7" fill="#2B7D12" stroke="#000" stroke-width="0.9"/>
<line x1="1200.08" x2="1200.08" y1="330.9" y2="336.7" stroke="#000" stroke-width="1.6"/>
<rect x="1197.78" y="333.2" width="4.6" height="3.5" fill="#FF2318" stroke="#000" stroke-width="0.9"/>
<line x1="1208.46" x2="1208.46" y1="331.9" y2="354.8" stroke="#000" stroke-width="1.6"/>
<rect x="1206.16" y="337.7" width="4.6" height="3.4" fill="#FF2318" stroke="#000" stroke-width="0.9"/>
<line x1="1216.84" x2="1216.84" y1="332.6" y2="380.4" stroke="#000" stroke-width="1.6"/>
<rect x="1214.54" y="340.6" width="4.6" height="1.2" fill="#FF2318" stroke="#000" stroke-width="0.9"/>
<line x1="1225.22" x2="1225.22" y1="330.9" y2="409.5" stroke="#000" stroke-width="1.6"/>
<rect x="1222.92" y="342.1" width="4.6" height="57.1" fill="#FF2318" stroke="#000" stroke-width="0.9"/>
<line x1="1233.6" x2="1233.6" y1="377.7" y2="421.5" stroke="#000" stroke-width="1.6"/>
<rect x="1231.3" y="388" width="4.6" height="11.2" fill="#2B7D12" stroke="#000" stroke-width="0.9"/>
<line x1="1241.98" x2="1241.98" y1="381" y2="458.4" stroke="#000" stroke-width="1.6"/>
<rect x="1239.68" y="388" width="4.6" height="60.7" fill="#FF2318" stroke="#000" stroke-width="0.9"/>
<line x1="1258.74" x2="1258.74" y1="433.3" y2="446.9" stroke="#000" stroke-width="1.6"/>
<rect x="1256.44" y="437.1" width="4.6" height="4.2" fill="#2B7D12" stroke="#000" stroke-width="0.9"/>
<line x1="1267.12" x2="1267.12" y1="402.7" y2="482.4" stroke="#000" stroke-width="1.6"/>
<rect x="1264.82" y="437.3" width="4.6" height="34" fill="#FF2318" stroke="#000" stroke-width="0.9"/>
<line x1="1275.5" x2="1275.5" y1="441.1" y2="490" stroke="#000" stroke-width="1.6"/>
<rect x="1273.2" y="460.3" width="4.6" height="11" fill="#2B7D12" stroke="#000" stroke-width="0.9"/>
<line x1="1283.88" x2="1283.88" y1="443.3" y2="488" stroke="#000" stroke-width="1.6"/>
<rect x="1281.58" y="460.3" width="4.6" height="11.4" fill="#FF2318" stroke="#000" stroke-width="0.9"/>
<line x1="1292.26" x2="1292.26" y1="434.7" y2="480.7" stroke="#000" stroke-width="1.6"/>
<rect x="1289.96" y="470.6" width="4.6" height="1.2" fill="#2B7D12" stroke="#000" stroke-width="0.9"/>
<line x1="1300.64" x2="1300.64" y1="432" y2="529.3" stroke="#000" stroke-width="1.6"/>
<rect x="1298.34" y="448" width="4.6" height="23.1" fill="#2B7D12" stroke="#000" stroke-width="0.9"/>
<line x1="1317.4" x2="1317.4" y1="434.7" y2="440.7" stroke="#000" stroke-width="1.6"/>
<rect x="1315.1" y="434.7" width="4.6" height="1.3" fill="#2B7D12" stroke="#000" stroke-width="0.9"/>
<line x1="1325.78" x2="1325.78" y1="393.3" y2="446" stroke="#000" stroke-width="1.6"/>
<rect x="1323.48" y="414.9" width="4.6" height="20" fill="#2B7D12" stroke="#000" stroke-width="0.9"/>
<line x1="1334.16" x2="1334.16" y1="382.7" y2="420.7" stroke="#000" stroke-width="1.6"/>
<rect x="1331.86" y="387.6" width="4.6" height="27.3" fill="#2B7D12" stroke="#000" stroke-width="0.9"/>
<line x1="1342.54" x2="1342.54" y1="380.3" y2="410" stroke="#000" stroke-width="1.6"/>
<rect x="1340.24" y="387.6" width="4.6" height="14.2" fill="#FF2318" stroke="#000" stroke-width="0.9"/>
<line x1="1350.92" x2="1350.92" y1="395.5" y2="472" stroke="#000" stroke-width="1.6"/>
<rect x="1348.62" y="401.8" width="4.6" height="27.3" fill="#FF2318" stroke="#000" stroke-width="0.9"/>
<line x1="1359.3" x2="1359.3" y1="407.1" y2="438.7" stroke="#000" stroke-width="1.6"/>
<rect x="1357" y="414.9" width="4.6" height="14.2" fill="#2B7D12" stroke="#000" stroke-width="0.9"/>
<line x1="1376.06" x2="1376.06" y1="410.7" y2="411.7" stroke="#000" stroke-width="1.6"/>
<rect x="1373.76" y="410.7" width="4.6" height="1.2" fill="#2B7D12" stroke="#000" stroke-width="0.9"/>
<line x1="1384.44" x2="1384.44" y1="399.3" y2="420.7" stroke="#000" stroke-width="1.6"/>
<rect x="1382.14" y="404" width="4.6" height="6.9" fill="#2B7D12" stroke="#000" stroke-width="0.9"/>
<line x1="1392.82" x2="1392.82" y1="401.1" y2="474" stroke="#000" stroke-width="1.6"/>
<rect x="1390.52" y="404" width="4.6" height="62" fill="#FF2318" stroke="#000" stroke-width="0.9"/>
<line x1="1401.2" x2="1401.2" y1="404.5" y2="477.3" stroke="#000" stroke-width="1.6"/>
<rect x="1398.9" y="446" width="4.6" height="20" fill="#2B7D12" stroke="#000" stroke-width="0.9"/>
<line x1="1409.58" x2="1409.58" y1="384.3" y2="456" stroke="#000" stroke-width="1.6"/>
<rect x="1407.28" y="393.1" width="4.6" height="52.9" fill="#2B7D12" stroke="#000" stroke-width="0.9"/>
<line x1="1417.96" x2="1417.96" y1="355.2" y2="393.5" stroke="#000" stroke-width="1.6"/>
<rect x="1415.66" y="365.2" width="4.6" height="28.3" fill="#2B7D12" stroke="#000" stroke-width="0.9"/>
<line x1="1434.72" x2="1434.72" y1="359.5" y2="361.8" stroke="#000" stroke-width="1.6"/>
<rect x="1432.42" y="359.5" width="4.6" height="2.3" fill="#FF2318" stroke="#000" stroke-width="0.9"/>
<line x1="1443.1" x2="1443.1" y1="345.3" y2="366.6" stroke="#000" stroke-width="1.6"/>
<rect x="1440.8" y="347.6" width="4.6" height="13.3" fill="#2B7D12" stroke="#000" stroke-width="0.9"/>
<line x1="1451.48" x2="1451.48" y1="334.8" y2="350.4" stroke="#000" stroke-width="1.6"/>
<rect x="1449.18" y="344.8" width="4.6" height="2.8" fill="#2B7D12" stroke="#000" stroke-width="0.9"/>
<line x1="1459.86" x2="1459.86" y1="322.2" y2="354.4" stroke="#000" stroke-width="1.6"/>
<rect x="1457.56" y="325.6" width="4.6" height="20" fill="#2B7D12" stroke="#000" stroke-width="0.9"/>
<line x1="1468.24" x2="1468.24" y1="281.5" y2="337.5" stroke="#000" stroke-width="1.6"/>
<rect x="1465.94" y="281.5" width="4.6" height="44.7" fill="#2B7D12" stroke="#000" stroke-width="0.9"/>
<line x1="1476.62" x2="1476.62" y1="267.5" y2="287.5" stroke="#000" stroke-width="1.6"/>
<rect x="1474.32" y="278.1" width="4.6" height="3.8" fill="#2B7D12" stroke="#000" stroke-width="0.9"/>
<line x1="1493.38" x2="1493.38" y1="276.3" y2="281.3" stroke="#000" stroke-width="1.6"/>
<rect x="1491.08" y="276.3" width="4.6" height="1.2" fill="#2B7D12" stroke="#000" stroke-width="0.9"/>
<line x1="1501.76" x2="1501.76" y1="259.4" y2="287.5" stroke="#000" stroke-width="1.6"/>
<rect x="1499.46" y="276.3" width="4.6" height="7.2" fill="#FF2318" stroke="#000" stroke-width="0.9"/>
<line x1="1510.14" x2="1510.14" y1="263.8" y2="299.4" stroke="#000" stroke-width="1.6"/>
<rect x="1507.84" y="267.3" width="4.6" height="16.2" fill="#2B7D12" stroke="#000" stroke-width="0.9"/>
<line x1="1518.52" x2="1518.52" y1="227.3" y2="272.3" stroke="#000" stroke-width="1.6"/>
<rect x="1516.22" y="229.4" width="4.6" height="38.7" fill="#2B7D12" stroke="#000" stroke-width="0.9"/>
<line x1="1526.9" x2="1526.9" y1="214.8" y2="238.1" stroke="#000" stroke-width="1.6"/>
<rect x="1524.6" y="230" width="4.6" height="4" fill="#FF2318" stroke="#000" stroke-width="0.9"/>
<line x1="1535.28" x2="1535.28" y1="219.4" y2="240.3" stroke="#000" stroke-width="1.6"/>
<rect x="1532.98" y="221.5" width="4.6" height="12.5" fill="#2B7D12" stroke="#000" stroke-width="0.9"/>
<line x1="1552.04" x2="1552.04" y1="215.6" y2="217.5" stroke="#000" stroke-width="1.6"/>
<rect x="1549.74" y="216.5" width="4.6" height="1.2" fill="#2B7D12" stroke="#000" stroke-width="0.9"/>
<line x1="1560.42" x2="1560.42" y1="211.5" y2="243.8" stroke="#000" stroke-width="1.6"/>
<rect x="1558.12" y="217.7" width="4.6" height="26.1" fill="#FF2318" stroke="#000" stroke-width="0.9"/>
<line x1="1568.8" x2="1568.8" y1="232.3" y2="243.8" stroke="#000" stroke-width="1.6"/>
<rect x="1566.5" y="232.3" width="4.6" height="11.5" fill="#2B7D12" stroke="#000" stroke-width="0.9"/>
<line x1="1577.18" x2="1577.18" y1="232.3" y2="270.4" stroke="#000" stroke-width="1.6"/>
<rect x="1574.88" y="232.3" width="4.6" height="32.3" fill="#FF2318" stroke="#000" stroke-width="0.9"/>
<line x1="1585.56" x2="1585.56" y1="244.8" y2="326.7" stroke="#000" stroke-width="1.6"/>
<rect x="1583.26" y="265" width="4.6" height="61.7" fill="#FF2318" stroke="#000" stroke-width="0.9"/>
<line x1="1593.94" x2="1593.94" y1="307.3" y2="326.5" stroke="#000" stroke-width="1.6"/>
<rect x="1591.64" y="325.5" width="4.6" height="1.2" fill="#FF2318" stroke="#000" stroke-width="0.9"/>
<line x1="1610.7" x2="1610.7" y1="325" y2="326" stroke="#000" stroke-width="1.6"/>
<rect x="1608.4" y="325" width="4.6" height="1.2" fill="#2B7D12" stroke="#000" stroke-width="0.9"/>
<line x1="1619.08" x2="1619.08" y1="316.3" y2="326" stroke="#000" stroke-width="1.6"/>
<rect x="1616.78" y="319.8" width="4.6" height="6.2" fill="#2B7D12" stroke="#000" stroke-width="0.9"/>
<line x1="1627.46" x2="1627.46" y1="319.8" y2="365.6" stroke="#000" stroke-width="1.6"/>
<rect x="1625.16" y="319.8" width="4.6" height="34.4" fill="#FF2318" stroke="#000" stroke-width="0.9"/>
<line x1="1635.84" x2="1635.84" y1="354.2" y2="431.3" stroke="#000" stroke-width="1.6"/>
<rect x="1633.54" y="354.2" width="4.6" height="71.8" fill="#FF2318" stroke="#000" stroke-width="0.9"/>
<line x1="1644.22" x2="1644.22" y1="426" y2="439.6" stroke="#000" stroke-width="1.6"/>
<rect x="1641.92" y="426" width="4.6" height="10.5" fill="#FF2318" stroke="#000" stroke-width="0.9"/>
<g stroke="#24820B" stroke-width="2">
<line x1="137" x2="137" y1="164.5" y2="726"/>
<line x1="124" x2="137" y1="165.5" y2="165.5"/>
<line x1="124" x2="137" y1="725" y2="725"/>
<line x1="124" x2="137" y1="669.3" y2="669.3"/>
<line x1="124" x2="137" y1="557.3" y2="557.3"/>
<line x1="124" x2="137" y1="445.3" y2="445.3"/>
<line x1="124" x2="137" y1="333.3" y2="333.3"/>
<line x1="124" x2="137" y1="221.3" y2="221.3"/>
</g>
<text x="117.8" y="676.5" font-size="22.3" fill="#24820B" text-anchor="end" textLength="90.5" lengthAdjust="spacingAndGlyphs">36000.00</text>
<text x="117.8" y="564.5" font-size="22.3" fill="#24820B" text-anchor="end" textLength="90.5" lengthAdjust="spacingAndGlyphs">37000.00</text>
<text x="117.8" y="452.5" font-size="22.3" fill="#24820B" text-anchor="end" textLength="90.5" lengthAdjust="spacingAndGlyphs">38000.00</text>
<text x="117.8" y="340.5" font-size="22.3" fill="#24820B" text-anchor="end" textLength="90.5" lengthAdjust="spacingAndGlyphs">39000.00</text>
<text x="117.8" y="228.5" font-size="22.3" fill="#24820B" text-anchor="end" textLength="90.5" lengthAdjust="spacingAndGlyphs">40000.00</text>
<g stroke="#8A8A8A" stroke-width="2">
<line x1="1654" x2="1654" y1="164.5" y2="726"/>
<line x1="1654" x2="1665" y1="165.5" y2="165.5"/>
<line x1="1654" x2="1665" y1="227.7" y2="227.7"/>
<line x1="1654" x2="1665" y1="289.9" y2="289.9"/>
<line x1="1654" x2="1665" y1="352.1" y2="352.1"/>
<line x1="1654" x2="1665" y1="414.3" y2="414.3"/>
<line x1="1654" x2="1665" y1="476.5" y2="476.5"/>
<line x1="1654" x2="1665" y1="538.7" y2="538.7"/>
<line x1="1654" x2="1665" y1="600.9" y2="600.9"/>
<line x1="1654" x2="1665" y1="663.1" y2="663.1"/>
<line x1="1654" x2="1665" y1="725.3" y2="725.3"/>
</g>
<text x="1670.8" y="172.9" font-size="23.3" fill="#2B3648" textLength="39.6" lengthAdjust="spacingAndGlyphs">55%</text>
<text x="1670.8" y="235.1" font-size="23.3" fill="#2B3648" textLength="39.6" lengthAdjust="spacingAndGlyphs">50%</text>
<text x="1670.8" y="297.3" font-size="23.3" fill="#2B3648" textLength="39.6" lengthAdjust="spacingAndGlyphs">45%</text>
<text x="1670.8" y="359.5" font-size="23.3" fill="#2B3648" textLength="39.6" lengthAdjust="spacingAndGlyphs">40%</text>
<text x="1670.8" y="421.7" font-size="23.3" fill="#2B3648" textLength="39.6" lengthAdjust="spacingAndGlyphs">35%</text>
<text x="1670.8" y="483.9" font-size="23.3" fill="#2B3648" textLength="39.6" lengthAdjust="spacingAndGlyphs">30%</text>
<text x="1670.8" y="546.1" font-size="23.3" fill="#2B3648" textLength="39.6" lengthAdjust="spacingAndGlyphs">25%</text>
<text x="1670.8" y="608.3" font-size="23.3" fill="#2B3648" textLength="39.6" lengthAdjust="spacingAndGlyphs">20%</text>
<text x="1670.8" y="670.5" font-size="23.3" fill="#2B3648" textLength="39.6" lengthAdjust="spacingAndGlyphs">15%</text>
<text x="1670.8" y="732.7" font-size="23.3" fill="#2B3648" textLength="39.6" lengthAdjust="spacingAndGlyphs">10%</text>
<text x="161.8" y="783.7" font-size="24" font-weight="bold" fill="#000" textLength="224" lengthAdjust="spacingAndGlyphs">Percentage of Traders</text>
<rect x="441.5" y="765.8" width="20.3" height="20" fill="#E8F4FC" stroke="#1E9BE0" stroke-width="3"/>
<text x="470.6" y="783.7" font-size="24" fill="#000" textLength="82.5" lengthAdjust="spacingAndGlyphs">net long</text>
<rect x="671.5" y="765.8" width="20.5" height="20" fill="#F7E4E6" stroke="#CF0A1E" stroke-width="3"/>
<text x="701" y="783.7" font-size="24" fill="#000" textLength="89" lengthAdjust="spacingAndGlyphs">net short</text>
<text x="901.2" y="783.7" font-size="24" font-weight="bold" fill="#000" textLength="186.3" lengthAdjust="spacingAndGlyphs">Number of Traders</text>
<line x1="1142.5" x2="1161.5" y1="775.5" y2="775.5" stroke="#1E9BE0" stroke-width="3"/>
<text x="1170.8" y="783.7" font-size="24" fill="#000" textLength="82.3" lengthAdjust="spacingAndGlyphs">net long</text>
<line x1="1371.5" x2="1391.5" y1="775.5" y2="775.5" stroke="#D0021B" stroke-width="3"/>
<text x="1401" y="783.7" font-size="24" fill="#000" textLength="89" lengthAdjust="spacingAndGlyphs">net short</text>
<line x1="144.5" x2="1645.3" y1="955.45" y2="955.45" stroke="#BDBDBD" stroke-width="1.5" stroke-dasharray="4,4"/>
<line x1="144.5" x2="1645.3" y1="912.95" y2="912.95" stroke="#BDBDBD" stroke-width="1.5" stroke-dasharray="4,4"/>
<line x1="144.5" x2="1645.3" y1="870.45" y2="870.45" stroke="#BDBDBD" stroke-width="1.5" stroke-dasharray="4,4"/>
<line x1="144.5" x2="1645.3" y1="827.95" y2="827.95" stroke="#BDBDBD" stroke-width="1.5" stroke-dasharray="4,4"/>
<line x1="388.3" x2="388.3" y1="806.7" y2="976.7" stroke="#BDBDBD" stroke-width="1.5" stroke-dasharray="4,4"/>
<line x1="648" x2="648" y1="806.7" y2="976.7" stroke="#BDBDBD" stroke-width="1.5" stroke-dasharray="4,4"/>
<line x1="891" x2="891" y1="806.7" y2="976.7" stroke="#BDBDBD" stroke-width="1.5" stroke-dasharray="4,4"/>
<line x1="1150.7" x2="1150.7" y1="806.7" y2="976.7" stroke="#BDBDBD" stroke-width="1.5" stroke-dasharray="4,4"/>
<line x1="1402.3" x2="1402.3" y1="806.7" y2="976.7" stroke="#BDBDBD" stroke-width="1.5" stroke-dasharray="4,4"/>
<line x1="144.5" x2="1645.3" y1="806.7" y2="806.7" stroke="#8C8C8C" stroke-width="2" stroke-dasharray="4,4"/>
<line x1="144.5" x2="1645.3" y1="976.7" y2="976.7" stroke="#BDBDBD" stroke-width="1.5" stroke-dasharray="4,4"/>
<line x1="145.5" x2="145.5" y1="806.7" y2="976.7" stroke="#8C8C8C" stroke-width="2" stroke-dasharray="4,4"/>
<line x1="1645.3" x2="1645.3" y1="806.7" y2="976.7" stroke="#BDBDBD" stroke-width="1.5" stroke-dasharray="4,4"/>
<polyline fill="none" stroke="#1E9BE0" stroke-width="3.2" stroke-linejoin="miter" stroke-miterlimit="3.2" points="144.2,969.6 152.58,969.3 160.96,964.7 169.34,961.6 177.72,941.1 186.1,958.1 194.48,968.4 202.86,968.4 211.24,967.3 219.62,965.8 228,965.8 236.38,967.8 244.76,963.1 253.14,953.9 261.52,953.9 269.9,952.7 278.28,956.5 286.66,951.1 295.04,958.1 303.42,963.1 311.8,967.3 320.18,967.3 328.56,967.3 336.94,965.8 345.32,963.5 353.7,953.4 362.08,953.4 370.46,967.8 378.84,967.8 387.22,967.8 395.6,967.8 403.98,969.6 412.36,957.3 420.74,961.1 429.12,966.5 437.5,966.5 445.88,965.9 454.26,967.3 462.64,957.6 471.02,967 479.4,968.1 487.78,963.5 496.16,963.5 504.54,961.9 512.92,961.1 521.3,949.4 529.68,951.2 538.06,958.1 546.44,975 554.82,975 563.2,973.5 571.58,955 579.96,958.8 588.34,958.8 596.72,967.3 605.1,957.6 613.48,957.6 621.86,955.7 630.24,969.3 638.62,971.9 647,958.1 655.38,969.6 663.76,963.5 672.14,963.5 680.52,961.9 688.9,953.4 697.28,961.1 705.66,965.8 714.04,966.5 722.42,949.6 730.8,949.6 739.18,948.3 747.56,957 755.94,944.2 764.32,947.7 772.7,962.2 781.08,962.2 789.46,962.2 797.84,961.1 806.22,958.1 814.6,959.1 822.98,963.1 831.36,959.6 839.74,959.1 848.12,959.1 856.5,957.3 864.88,948.8 873.26,947.3 881.64,950.3 890.02,941.9 898.4,951.9 906.78,951.9 915.16,950.3 923.54,942.6 931.92,939.1 940.3,946.5 948.68,949.3 957.06,959.1 965.44,959.1 973.82,957.3 982.2,957.6 990.58,962.2 998.96,965.3 1007.34,956.5 1015.72,946.8 1024.1,946.8 1032.48,945.7 1040.86,950.8 1049.24,965.8 1057.62,973 1066,969.6 1074.38,959.6 1082.76,959.6 1091.14,958.1 1099.52,941.1 1107.9,944.2 1116.28,962.7 1124.66,964.2 1133.04,964.2 1141.42,964.2 1149.8,943.4 1158.18,929.8 1166.56,931.4 1174.94,921.5 1183.32,921.5 1191.7,943.1 1200.08,943.7 1208.46,943.7 1216.84,934.2 1225.22,914.4 1233.6,923.4 1241.98,923.4 1250.36,910.7 1258.74,913.3 1267.12,908.7 1275.5,917.2 1283.88,917.2 1292.26,910.3 1300.64,911.3 1309.02,938 1317.4,936 1325.78,936 1334.16,930.8 1342.54,935.7 1350.92,921 1359.3,921 1367.68,931.4 1376.06,931.4 1384.44,930.8 1392.82,908.2 1401.2,921.8 1409.58,938 1417.96,938 1426.34,944.6 1434.72,943.7 1443.1,943.7 1451.48,940.6 1459.86,948.3 1468.24,953.9 1476.62,954.5 1485,957.3 1493.38,956.5 1501.76,956.1 1510.14,952.7 1518.52,952.7 1526.9,958.1 1535.28,958.8 1543.66,965.8 1552.04,965.8 1560.42,951.9 1568.8,951.9 1577.18,946.8 1585.56,921.5 1593.94,921.5 1602.32,928.3 1610.7,928.3 1619.08,922.6 1627.46,922.6 1635.84,915.3 1644.22,902.1"/>
<polyline fill="none" stroke="#D0021B" stroke-width="3.1" stroke-linejoin="miter" stroke-miterlimit="3.1" points="144.2,828.8 152.58,828.5 160.96,824.4 169.34,830.1 177.72,840.4 186.1,835.2 194.48,838.9 202.86,838.9 211.24,837.9 219.62,835.2 228,835.5 236.38,840.4 244.76,837 253.14,845 261.52,845 269.9,842.9 278.28,836.2 286.66,831.6 295.04,852.4 303.42,839.3 311.8,842.4 320.18,842.4 328.56,842.4 336.94,841.9 345.32,834.7 353.7,832.1 362.08,827.4 370.46,834.2 378.84,834.2 387.22,834.2 395.6,832.4 403.98,816.2 412.36,833.2 420.74,828.5 429.12,832.8 437.5,832.8 445.88,831.6 454.26,830.1 462.64,838.2 471.02,833.2 479.4,830.5 487.78,846 496.16,846 504.54,846 512.92,842.4 521.3,838.9 529.68,834.2 538.06,850.6 546.44,840.1 554.82,840.1 563.2,838.6 571.58,836.7 579.96,844.7 588.34,849.7 596.72,836.7 605.1,836.7 613.48,836.7 621.86,838.6 630.24,830.5 638.62,816.2 647,839.3 655.38,824.7 663.76,832.4 672.14,832.4 680.52,830.8 688.9,846 697.28,835.2 705.66,821.9 714.04,823.9 722.42,841.6 730.8,841.6 739.18,841.6 747.56,833.9 755.94,856.3 764.32,851.7 772.7,828.5 781.08,844.7 789.46,844.7 797.84,844.7 806.22,842.9 814.6,838.2 822.98,843.9 831.36,837 839.74,838.9 848.12,838.9 856.5,839.3 864.88,838.9 873.26,851.7 881.64,854 890.02,855.2 898.4,853.2 906.78,853.2 915.16,853.2 923.54,855.8 931.92,868.3 940.3,862.9 948.68,862.9 957.06,863.2 965.44,863.2 973.82,863.5 982.2,849.3 990.58,847.5 998.96,843.9 1007.34,855.5 1015.72,867.1 1024.1,867.1 1032.48,867.1 1040.86,859.8 1049.24,832.7 1057.62,839.3 1066,837 1074.38,858.3 1082.76,858.3 1091.14,860 1099.52,865.5 1107.9,863.2 1116.28,850.1 1124.66,849 1133.04,849 1141.42,849 1149.8,869.1 1158.18,874.8 1166.56,872.5 1174.94,888.2 1183.32,888.2 1191.7,877.1 1200.08,875.6 1208.46,875.3 1216.84,874 1225.22,893.3 1233.6,891 1241.98,891 1250.36,904.1 1258.74,897.9 1267.12,904.5 1275.5,897.5 1283.88,897.5 1292.26,893.8 1300.64,901.5 1309.02,884.5 1317.4,884.5 1325.78,884.5 1334.16,890.2 1342.54,883.6 1350.92,900.2 1359.3,900.2 1367.68,893.3 1376.06,893.3 1384.44,892.5 1392.82,901.5 1401.2,892.5 1409.58,886 1417.96,886 1426.34,874.3 1434.72,875.3 1443.1,875.3 1451.48,869.4 1459.86,862.5 1468.24,862.5 1476.62,862.9 1485,862.9 1493.38,862.5 1501.76,863.2 1510.14,863.5 1518.52,863.5 1526.9,864.5 1535.28,858.3 1543.66,854 1552.04,854 1560.42,863.2 1568.8,863.2 1577.18,872.8 1585.56,892.2 1593.94,892.2 1602.32,891 1610.7,891 1619.08,894.4 1627.46,894.8 1635.84,897.1 1644.22,909.2"/>
<g stroke="#8A8A8A" stroke-width="2">
<line x1="1654" x2="1654" y1="806.7" y2="976.7"/>
<line x1="1654" x2="1665" y1="806.7" y2="806.7"/>
<line x1="1654" x2="1665" y1="976.7" y2="976.7"/>
<line x1="1654" x2="1665" y1="955.45" y2="955.45"/>
<line x1="1654" x2="1665" y1="912.95" y2="912.95"/>
<line x1="1654" x2="1665" y1="870.45" y2="870.45"/>
<line x1="1654" x2="1665" y1="827.95" y2="827.95"/>
</g>
<text x="1670.8" y="963.05" font-size="22.3" fill="#2B3648" textLength="47.6" lengthAdjust="spacingAndGlyphs">1000</text>
<text x="1670.8" y="920.55" font-size="22.3" fill="#2B3648" textLength="47.6" lengthAdjust="spacingAndGlyphs">2000</text>
<text x="1670.8" y="878.05" font-size="22.3" fill="#2B3648" textLength="47.6" lengthAdjust="spacingAndGlyphs">3000</text>
<text x="1670.8" y="835.55" font-size="22.3" fill="#2B3648" textLength="47.6" lengthAdjust="spacingAndGlyphs">4000</text>
<line x1="388.3" x2="388.3" y1="976.7" y2="987.4" stroke="#8A8A8A" stroke-width="2"/>
<text transform="translate(395.7,1117) rotate(-90)" x="0" y="0" font-size="23.5" fill="#2B3648" textLength="119" lengthAdjust="spacingAndGlyphs">2024-Jan-01</text>
<line x1="648" x2="648" y1="976.7" y2="987.4" stroke="#8A8A8A" stroke-width="2"/>
<text transform="translate(655.4,1117) rotate(-90)" x="0" y="0" font-size="23.5" fill="#2B3648" textLength="119" lengthAdjust="spacingAndGlyphs">2024-Feb-01</text>
<line x1="891" x2="891" y1="976.7" y2="987.4" stroke="#8A8A8A" stroke-width="2"/>
<text transform="translate(898.4,1117) rotate(-90)" x="0" y="0" font-size="23.5" fill="#2B3648" textLength="119" lengthAdjust="spacingAndGlyphs">2024-Mar-01</text>
<line x1="1150.7" x2="1150.7" y1="976.7" y2="987.4" stroke="#8A8A8A" stroke-width="2"/>
<text transform="translate(1158.1,1117) rotate(-90)" x="0" y="0" font-size="23.5" fill="#2B3648" textLength="119" lengthAdjust="spacingAndGlyphs">2024-Apr-01</text>
<line x1="1402.3" x2="1402.3" y1="976.7" y2="987.4" stroke="#8A8A8A" stroke-width="2"/>
<text transform="translate(1409.7,1117) rotate(-90)" x="0" y="0" font-size="23.5" fill="#2B3648" textLength="119" lengthAdjust="spacingAndGlyphs">2024-May-01</text>
<defs><filter id="sh" x="-10%" y="-10%" width="130%" height="140%"><feDropShadow dx="1.2" dy="1.5" stdDeviation="0.6" flood-color="#707070" flood-opacity="0.9"/></filter></defs>
<defs><filter id="bl" x="-5%" y="-50%" width="110%" height="200%"><feGaussianBlur stdDeviation="0.45"/></filter></defs>
<g stroke="#7E7E7E" stroke-width="1.9" stroke-linecap="round" filter="url(#bl)" opacity="0.9">
<line x1="1587.5" y1="1116.6" x2="1616.4" y2="1116.6"/>
<line x1="1617.9" y1="1108" x2="1616.4" y2="1116.6"/>
<line x1="1566.6" y1="1123.5" x2="1576.7" y2="1123.5"/>
<line x1="1585" y1="1126.7" x2="1602.7" y2="1126.7"/>
<line x1="1581.8" y1="1137.3" x2="1610" y2="1137.3"/>
<line x1="1613.5" y1="1121.7" x2="1604.9" y2="1159.2"/>
<line x1="1562" y1="1141.5" x2="1571" y2="1141.5"/>
<line x1="1581" y1="1143.3" x2="1599" y2="1143.3"/>
<line x1="1570" y1="1142.6" x2="1563" y2="1159.2"/>
<line x1="1553" y1="1160.9" x2="1564.4" y2="1160.9"/>
<line x1="1570" y1="1161" x2="1605" y2="1161"/>
<line x1="1597" y1="1128" x2="1600.5" y2="1135"/>
<line x1="1592.5" y1="1145" x2="1596" y2="1153"/>
<line x1="1575.5" y1="1108.7" x2="1574.8" y2="1115.5"/>
<line x1="1582" y1="1128" x2="1579" y2="1143"/>
<line x1="1626.5" y1="1115.5" x2="1664.8" y2="1115.5"/>
<line x1="1633" y1="1118" x2="1631" y2="1129"/>
<line x1="1622" y1="1137.2" x2="1660.5" y2="1137.2"/>
<line x1="1676.4" y1="1109.4" x2="1664" y2="1161.4"/>
<line x1="1616.4" y1="1151.6" x2="1656" y2="1151.6"/>
<line x1="1641" y1="1162" x2="1662.6" y2="1162"/>
<line x1="1657" y1="1145" x2="1656" y2="1152"/>
<line x1="1676.3" y1="1108.6" x2="1663" y2="1159"/>
<line x1="1700" y1="1117.9" x2="1692.7" y2="1146.7"/>
<line x1="1689.5" y1="1117.5" x2="1700.4" y2="1117.5"/>
<line x1="1688.8" y1="1117.9" x2="1682.5" y2="1145"/>
<line x1="1675.5" y1="1148.2" x2="1682.5" y2="1148.2"/>
<line x1="1673" y1="1162.2" x2="1685.7" y2="1162.2"/>
<line x1="1689.5" y1="1161.4" x2="1699" y2="1161.4"/>
<line x1="1709.8" y1="1120.8" x2="1724.5" y2="1120.8"/>
<line x1="1737.8" y1="1110.9" x2="1724.5" y2="1159.1"/>
<line x1="1713.7" y1="1160" x2="1724.5" y2="1160"/>
<line x1="1723.8" y1="1123.3" x2="1708.2" y2="1153.6"/>
<line x1="1734.6" y1="1120.8" x2="1737.8" y2="1120.8"/>
<line x1="1763.4" y1="1109.3" x2="1751" y2="1123.3"/>
<line x1="1742.4" y1="1131" x2="1747.9" y2="1131"/>
<line x1="1765" y1="1121.8" x2="1749.4" y2="1139.7"/>
<line x1="1737.8" y1="1148.2" x2="1757.2" y2="1148.2"/>
<line x1="1768.9" y1="1116" x2="1783.6" y2="1116"/>
<line x1="1798.4" y1="1109.3" x2="1786" y2="1124.1"/>
<line x1="1763.4" y1="1134.8" x2="1792.2" y2="1134.8"/>
<line x1="1757" y1="1144.3" x2="1767" y2="1144.3"/>
<line x1="1774.5" y1="1144.3" x2="1786" y2="1144.3"/>
<line x1="1776.6" y1="1145" x2="1775.5" y2="1153"/>
<line x1="1734.6" y1="1161.5" x2="1785.2" y2="1161.5"/>
</g>
<g filter="url(#sh)" font-size="31" font-weight="bold" font-style="italic" fill="#7CC3EE" stroke="#7CC3EE" stroke-width="1.1">
<text transform="translate(1566,1194) scale(1.12,1)" x="0" y="0">z</text>
<text transform="translate(1593,1194) scale(1.12,1)" x="0" y="0">z</text>
<text transform="translate(1620,1194) scale(1.06,1)" x="0" y="0">r</text>
<text transform="translate(1645,1194) scale(1.07,1)" x="0" y="0">t</text>
<text transform="translate(1665,1194) scale(1.11,1)" x="0" y="0">0</text>
<text transform="translate(1699,1194) scale(0.8,1)" x="0" y="0">1</text>
<text transform="translate(1722,1194) scale(1.56,1)" x="0" y="0">.</text>
<text transform="translate(1742,1194) scale(0.99,1)" x="0" y="0">c</text>
<text transform="translate(1767,1194) scale(1.16,1)" x="0" y="0">n</text>
</g>
</svg></body></html>
